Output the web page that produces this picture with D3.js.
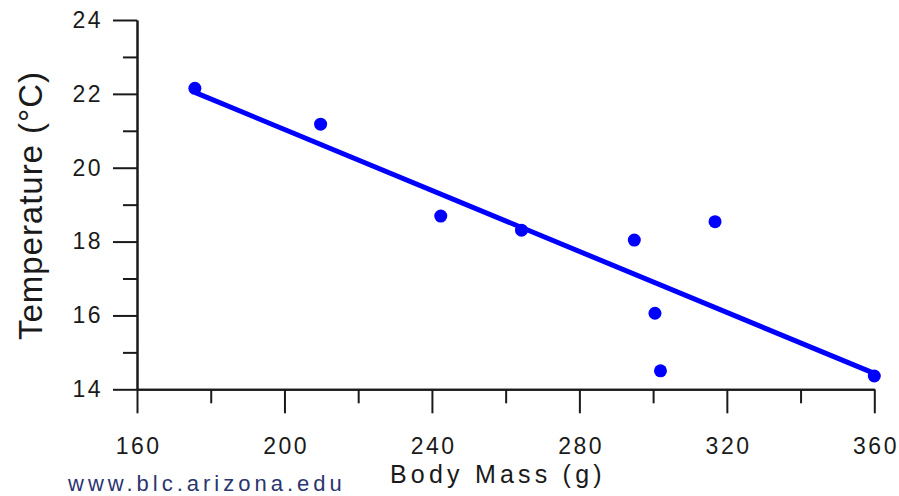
<!DOCTYPE html>
<html>
<head>
<meta charset="utf-8">
<script src="https://cdn.jsdelivr.net/npm/d3@7"></script>
<style>
  body { margin: 0; background: #fff; }
  svg { display: block; font-family: "Liberation Sans", Arial, sans-serif; }
  .axis path, .axis line { stroke: #1a1a1a; stroke-width: 2px; }
  .axis text { font-size: 23px; fill: #1a1a1a; letter-spacing: 2.5px; font-family: "Liberation Sans", Arial, sans-serif; }
</style>
</head>
<body>
<script>

// values

var bodyMass = [175.7, 209.8, 242.4, 264.3, 294.9, 300.5, 302.0, 316.8, 360.0]
var temperature = [22.15, 21.18, 18.69, 18.31, 18.04, 16.06, 14.50, 18.54, 14.36]

// fitted line, start and end
var fitMass = [175.7, 360.0]
var fitTemp = [22.04, 14.43]

var xMajor = [160, 200, 240, 280, 320, 360]
var xMinor = [180, 220, 260, 300, 340]
var yMajor = [14, 16, 18, 20, 22, 24]
var yMinor = [15, 17, 19, 21, 23]

var width = 899, height = 496

var svg = d3.select("body").append("svg")
  .attr("width", width)
  .attr("height", height)

var x = d3.scaleLinear().domain([160, 360]).range([137, 874.3])
var y = d3.scaleLinear().domain([14, 24]).range([389.3, 20])

// minor ticks first, then major ones with the labels

svg.append("g")
  .attr("class", "axis")
  .attr("transform", "translate(0," + y(14) + ")")
  .call(d3.axisBottom(x).tickValues(xMinor).tickSize(14).tickSizeOuter(0).tickFormat(""))

svg.append("g")
  .attr("class", "axis")
  .attr("transform", "translate(" + x(160) + ",0)")
  .call(d3.axisLeft(y).tickValues(yMinor).tickSize(14).tickSizeOuter(0).tickFormat(""))

svg.append("g")
  .attr("class", "axis")
  .attr("transform", "translate(0," + y(14) + ")")
  .call(d3.axisBottom(x).tickValues(xMajor).tickSize(24).tickSizeOuter(0).tickPadding(24).tickFormat(d3.format("d")))
  .selectAll("text").attr("dx", "1.2px")

svg.append("g")
  .attr("class", "axis")
  .attr("transform", "translate(" + x(160) + ",0)")
  .call(d3.axisLeft(y).tickValues(yMajor).tickSize(24).tickSizeOuter(0).tickPadding(10).tickFormat(d3.format("d")))

// regression line

var line = d3.line()
  .x(function(d) { return x(d[0]) })
  .y(function(d) { return y(d[1]) })

svg.append("path")
  .datum(d3.zip(fitMass, fitTemp))
  .attr("d", line)
  .attr("fill", "none")
  .attr("stroke", "#0000ff")
  .attr("stroke-width", 5)

// measured points

svg.append("g")
  .selectAll("circle")
  .data(d3.zip(bodyMass, temperature))
  .enter()
  .append("circle")
  .attr("cx", function(d) { return x(d[0]) })
  .attr("cy", function(d) { return y(d[1]) })
  .attr("r", 6.5)
  .attr("fill", "#0000ff")

// axis titles

svg.append("text")
  .attr("x", 390)
  .attr("y", 483)
  .attr("font-size", 25)
  .attr("letter-spacing", "4.2px")
  .attr("fill", "#1a1a1a")
  .text("Body Mass (g)")

svg.append("text")
  .attr("transform", "translate(42,340) rotate(-90)")
  .attr("font-size", 33)
  .attr("fill", "#1a1a1a")
  .attr("textLength", 268)
  .attr("lengthAdjust", "spacing")
  .text("Temperature (\u00b0C)")

svg.append("text")
  .attr("x", 68)
  .attr("y", 491)
  .attr("font-size", 22)
  .attr("letter-spacing", "4px")
  .attr("fill", "#2a3570")
  .text("www.blc.arizona.edu")

</script>
</body>
</html>
